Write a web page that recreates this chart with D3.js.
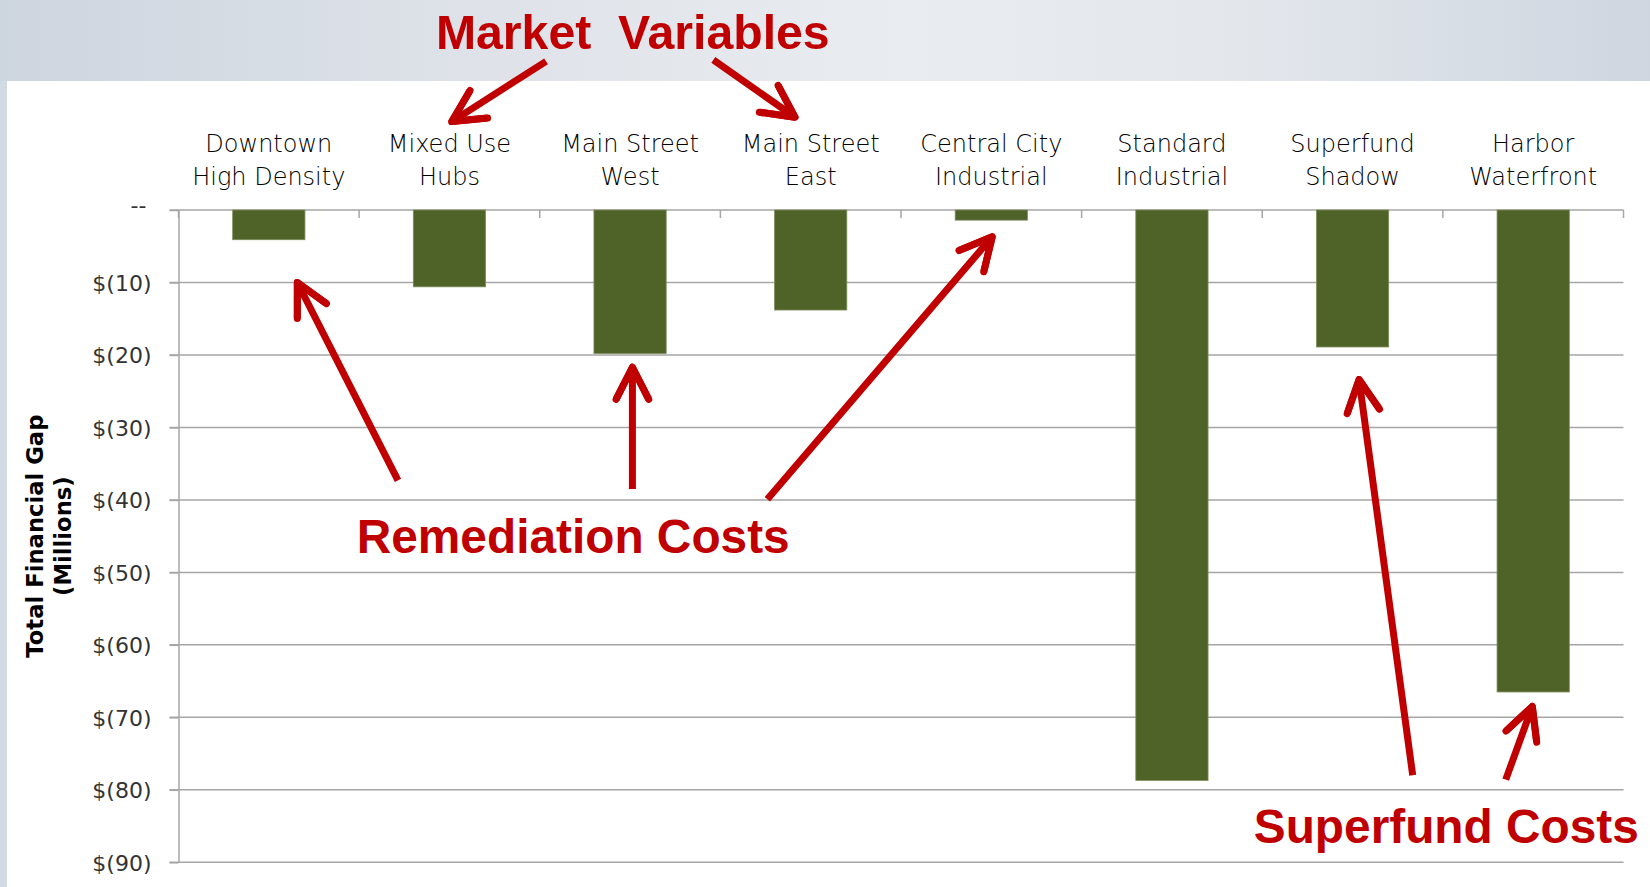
<!DOCTYPE html>
<html>
<head>
<meta charset="utf-8">
<script src="https://cdn.jsdelivr.net/npm/d3@7"></script>
<style>
  html, body { margin: 0; padding: 0; background: #fff; }
  svg { display: block; }
</style>
</head>
<body>
<svg id="chart"></svg>
<script>
// chart data
const categories = [
  ['Downtown', 'High Density'],
  ['Mixed Use', 'Hubs'],
  ['Main Street', 'West'],
  ['Main Street', 'East'],
  ['Central City', 'Industrial'],
  ['Standard', 'Industrial'],
  ['Superfund', 'Shadow'],
  ['Harbor', 'Waterfront']
];
const gapValues = [-4.1, -10.6, -19.8, -13.8, -1.4, -78.7, -18.9, -66.5];
const yTicks = [0, -10, -20, -30, -40, -50, -60, -70, -80, -90];
const yTitle = ['Total Financial Gap', '(Millions)'];

// callouts, in category units (x) and $M (y)
const callouts = [
  { text: 'Market  Variables', x: 1.425, y: 22.2, anchor: 'start', size: 48.2 },
  { text: 'Remediation Costs', x: 0.987, y: -47.3, anchor: 'start', size: 47.8 },
  { text: 'Superfund Costs', x: 8.085, y: -87.4, anchor: 'end', size: 47.8 }
];
const arrows = [
  { from: [2.035, 20.5], to: [1.513, 12.2] },
  { from: [2.961, 20.7], to: [3.413, 12.8] },
  { from: [1.215, -37.3], to: [0.658, -10.0] },
  { from: [2.513, -38.5], to: [2.513, -21.7] },
  { from: [3.260, -39.9], to: [4.505, -3.7] },
  { from: [6.833, -78.0], to: [6.536, -23.4] },
  { from: [7.348, -78.6], to: [7.495, -68.5] }
];

const W = 1650, H = 887;
const plot = { left: 178.5, right: 1623.5, top: 210, bottom: 862.3 };
const red = '#c00000';
const barColor = '#4f6228';
const gridColor = '#a6a6a6';
const labelFont = '"DejaVu Sans", sans-serif';

const svg = d3.select('#chart').attr('width', W).attr('height', H);

// slide background
const defs = svg.append('defs');
const grad = defs.append('linearGradient').attr('id', 'hdr').attr('x1', 0).attr('x2', 1).attr('y1', 0).attr('y2', 0);
[[0, '#cdd5df'], [0.3, '#dfe3e9'], [0.55, '#e9ecf0'], [0.75, '#e3e7ec'], [1, '#cfd6e0']]
  .forEach(([o, c]) => grad.append('stop').attr('offset', o).attr('stop-color', c));
svg.append('rect').attr('width', W).attr('height', 81).attr('fill', 'url(#hdr)');
svg.append('rect').attr('y', 81).attr('width', 7).attr('height', H - 81).attr('fill', '#d2dae3');

// scales
const x = d3.scaleBand()
  .domain(d3.range(categories.length))
  .range([plot.left, plot.right])
  .paddingInner(0.6)
  .paddingOuter(0.3);
const xu = d3.scaleLinear().domain([0, categories.length]).range([plot.left, plot.right]);
const y = d3.scaleLinear().domain([0, -90]).range([plot.top, plot.bottom]);

// gridlines
svg.append('g')
  .selectAll('line')
  .data(yTicks)
  .join('line')
  .attr('x1', plot.left - 9)
  .attr('x2', plot.right)
  .attr('y1', d => y(d))
  .attr('y2', d => y(d))
  .attr('stroke', gridColor)
  .attr('stroke-width', 1.5);

// category boundary ticks on the zero line
svg.append('g')
  .selectAll('line')
  .data(d3.range(categories.length + 1))
  .join('line')
  .attr('x1', d => xu(d))
  .attr('x2', d => xu(d))
  .attr('y1', y(0))
  .attr('y2', y(0) + 8)
  .attr('stroke', gridColor)
  .attr('stroke-width', 1.5);

// y axis
const yAxis = svg.append('g')
  .attr('transform', `translate(${plot.left},0)`)
  .call(d3.axisLeft(y)
    .tickValues(yTicks)
    .tickSize(9)
    .tickSizeOuter(0)
    .tickPadding(18)
    .tickFormat(d => d === 0 ? '--' : `$(${Math.abs(d)})`));
yAxis.select('.domain').attr('stroke', gridColor).attr('stroke-width', 1.5);
yAxis.selectAll('.tick line').attr('stroke', gridColor).attr('stroke-width', 1.5);
yAxis.selectAll('.tick text')
  .attr('fill', '#333')
  .style('font-family', labelFont)
  .style('font-size', '22px')
  .attr('dy', '0.36em');
yAxis.selectAll('.tick text').filter(d => d === 0).attr('dx', -5).attr('dy', '0.1em');

// bars
svg.append('g')
  .selectAll('rect')
  .data(gapValues)
  .join('rect')
  .attr('x', (d, i) => x(i))
  .attr('width', x.bandwidth())
  .attr('y', d => y(Math.max(0, d)))
  .attr('height', d => Math.abs(y(d) - y(0)))
  .attr('fill', barColor)
  .attr('stroke', '#7d8c5c')
  .attr('stroke-width', 0.8);

// category labels
svg.append('g')
  .selectAll('text')
  .data(categories)
  .join('text')
  .attr('text-anchor', 'middle')
  .attr('fill', '#000')
  .style('font-family', labelFont)
  .style('font-size', '24px')
  .style('font-weight', 200)
  .each(function(d, i) {
    const t = d3.select(this);
    d.forEach((line, k) => {
      t.append('tspan')
        .attr('x', x(i) + x.bandwidth() / 2)
        .attr('y', 151.5 + k * 33)
        .text(line);
    });
  });

// y axis title
yTitle.forEach((line, k) => {
  svg.append('text')
    .attr('transform', `translate(${43 + k * 28},${(y(-30) + y(-60)) / 2}) rotate(-90)`)
    .attr('text-anchor', 'middle')
    .attr('fill', '#000')
    .style('font-family', labelFont)
    .style('font-weight', 'bold')
    .style('font-size', '22.7px')
    .text(line);
});

// red call-outs
const ann = svg.append('g');
ann.selectAll('text')
  .data(callouts)
  .join('text')
  .attr('x', d => xu(d.x))
  .attr('y', d => y(d.y))
  .attr('text-anchor', d => d.anchor)
  .attr('fill', red)
  .style('white-space', 'pre')
  .style('font-family', '"Liberation Sans", Arial, sans-serif')
  .style('font-weight', 'bold')
  .style('font-size', d => d.size + 'px')
  .text(d => d.text);

const headLen = 36, headAng = 27 * Math.PI / 180;
ann.selectAll('path')
  .data(arrows)
  .join('path')
  .attr('fill', 'none')
  .attr('stroke', red)
  .attr('stroke-width', 7)
  .attr('stroke-linecap', 'butt')
  .attr('stroke-linejoin', 'round')
  .attr('d', d => {
    const x0 = xu(d.from[0]), y0 = y(d.from[1]);
    const x1 = xu(d.to[0]), y1 = y(d.to[1]);
    const a = Math.atan2(y0 - y1, x0 - x1);
    const w1 = [x1 + headLen * Math.cos(a + headAng), y1 + headLen * Math.sin(a + headAng)];
    const w2 = [x1 + headLen * Math.cos(a - headAng), y1 + headLen * Math.sin(a - headAng)];
    return `M${x0},${y0}L${x1},${y1}M${w1[0]},${w1[1]}L${x1},${y1}L${w2[0]},${w2[1]}`;
  });
ann.selectAll('path').clone()
  .attr('d', function() { return d3.select(this).attr('d').split('M').slice(2).map(s => 'M' + s).join(''); })
  .attr('stroke-linecap', 'round');
</script>
</body>
</html>
